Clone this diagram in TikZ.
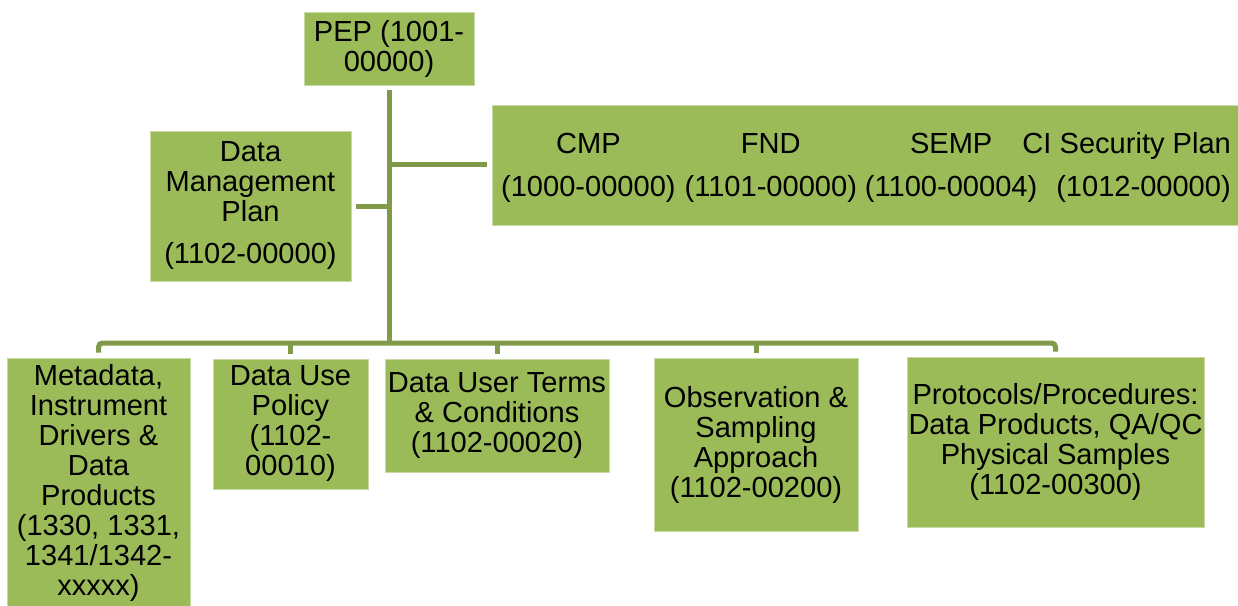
\documentclass[tikz,border=0pt]{standalone}
\usepackage{fontspec}
\setmainfont{Liberation Sans}
\definecolor{boxgreen}{HTML}{9BBB59}
\definecolor{linegreen}{HTML}{7F9A48}
\tikzset{
  docbox/.style={rectangle, fill=boxgreen, draw=boxgreen!55!white, line width=0.6pt, inner sep=0pt, align=center, font=\fontsize{21.8}{22.5}\selectfont},
  linkline/.style={draw=linegreen, line width=3.75pt},
}
\begin{document}
\begin{tikzpicture}[x=0.75pt, y=-0.75pt]
\useasboundingbox (0,0) rectangle (1238,606);
\node[docbox, minimum width=127.5pt, minimum height=54.75pt] (pep) at (389,48.5) {PEP (1001-\\00000)};
\node[docbox, minimum width=150.75pt, minimum height=112.5pt] (dmp) at (250.5,206) {Data\\Management\\Plan\\[9pt](1102-00000)};
\node[docbox, minimum width=561pt, minimum height=90pt] (plans) at (866,165) {%
  \raisebox{-3pt}[\height][\depth]{%
  \begin{tabular}{@{}c@{\hspace{6.75pt}}c@{\hspace{6pt}}c@{\hspace{14.25pt}}r@{}}
  CMP & FND & SEMP & \makebox[0pt][r]{CI Security Plan}\\[9.5pt]
  (1000-00000) & (1101-00000) & (1100-00004) & (1012-00000)
  \end{tabular}}};
\node[docbox, minimum width=137.25pt, minimum height=187.5pt] (meta) at (98.5,483) {Metadata,\\Instrument\\Drivers \&\\Data\\Products\\(1330, 1331,\\1341/1342-\\xxxxx)};
\node[docbox, minimum width=116.25pt, minimum height=97.5pt] (usepol) at (290.5,424) {Data Use\\Policy\\(1102-\\00010)};
\node[docbox, minimum width=168pt, minimum height=84.75pt] (terms) at (497,415.5) {Data User Terms\\\& Conditions\\(1102-00020)};
\node[docbox, minimum width=153pt, minimum height=129.75pt] (obs) at (756,444.5) {Observation \&\\Sampling\\Approach\\(1102-00200)};
\node[docbox, minimum width=222.75pt, minimum height=127.5pt] (proto) at (1055.5,442) {Protocols/Procedures:\\Data Products, QA/QC\\Physical Samples\\(1102-00300)};

% trunk and side branches
\coordinate (bus) at (389,343);
\draw[linkline, shorten <=3.75pt] (pep.south) -- (bus);
\draw[linkline, shorten <=3.75pt] (dmp.east) -- (dmp.east -| pep.south);
\draw[linkline, shorten >=3.75pt] (plans.west -| pep.south) -- (plans.west);
% bottom bus
\draw[linkline, rounded corners=3pt, shorten <=3.75pt, shorten >=3.75pt] (meta.north) -- (meta.north |- bus) -- (proto.north |- bus) -- (proto.north);
\foreach \n in {usepol, terms, obs}
  \draw[linkline, shorten >=3.75pt] (\n.north |- bus) -- (\n.north);
\end{tikzpicture}
\end{document}
